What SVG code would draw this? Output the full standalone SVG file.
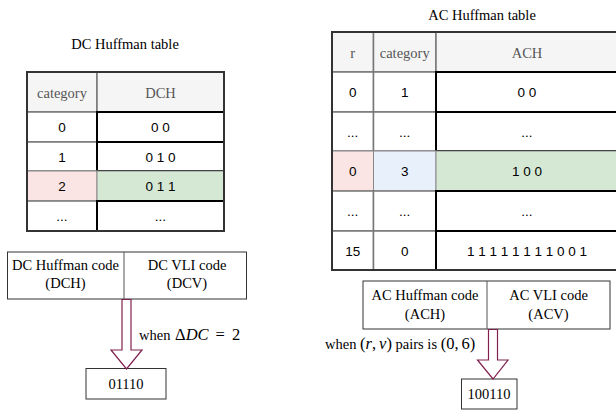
<svg xmlns="http://www.w3.org/2000/svg" width="616" height="412" viewBox="0 0 616 412">
<style>
.ser{font-family:"Liberation Serif","Times New Roman",serif;font-size:14.5px;fill:#000}
.hd{font-family:"Liberation Serif","Times New Roman",serif;font-size:14.5px;fill:#555;text-anchor:middle}
.dt{font-family:"Liberation Sans",Arial,sans-serif;font-size:13.5px;fill:#000;text-anchor:middle}
.mid{text-anchor:middle}
.m{font-size:16.5px}
.i{font-style:italic}
.hc{fill:#f5f5f5;stroke:#777;stroke-width:1.5}
.gc{fill:#fff;stroke:#777;stroke-width:1.5}
.bc{fill:#fff;stroke:#000;stroke-width:2}
.pk{fill:#fae4e4;stroke:#888;stroke-width:1}
.gr{fill:#d5e8d4;stroke:#888;stroke-width:1}
.bl{fill:#e8f0fc;stroke:#888;stroke-width:1}
.frame{fill:none;stroke:#333;stroke-width:2}
.box{fill:#fff;stroke:#333;stroke-width:1}
.arr{fill:#fff;stroke:#80204f;stroke-width:1.2}
</style>

<g id="dc-title"><text class="ser mid" x="125" y="49">DC Huffman table</text></g>

<g id="dc-table">
  <rect class="hc" x="27" y="72" width="70" height="40"/>
  <rect class="hc" x="97" y="72" width="127" height="40"/>
  <rect class="gc" x="27" y="112" width="70" height="30"/>
  <rect class="bc" x="97" y="112" width="127" height="30"/>
  <rect class="gc" x="27" y="142" width="70" height="29"/>
  <rect class="bc" x="97" y="142" width="127" height="29"/>
  <rect class="pk" x="27" y="171" width="70" height="30"/>
  <rect class="gr" x="97" y="171" width="127" height="30"/>
  <rect class="gc" x="27" y="201" width="70" height="30"/>
  <rect class="bc" x="97" y="201" width="127" height="30"/>
  <rect class="frame" x="27" y="72" width="197" height="159"/>
  <text class="hd" x="62" y="97.5">category</text>
  <text class="hd" x="160.5" y="97.5">DCH</text>
  <text class="dt" x="62" y="132">0</text><text class="dt" x="160.5" y="132">0 0</text>
  <text class="dt" x="62" y="161.5">1</text><text class="dt" x="160.5" y="161.5">0 1 0</text>
  <text class="dt" x="62" y="191">2</text><text class="dt" x="160.5" y="191">0 1 1</text>
  <text class="dt" x="62" y="221">...</text><text class="dt" x="160.5" y="221">...</text>
</g>

<g id="dc-code">
  <rect class="box" x="7.5" y="252" width="239" height="47"/>
  <line x1="124" y1="252" x2="124" y2="299" stroke="#555" stroke-width="1"/>
  <text class="ser mid" x="65.5" y="269.5">DC Huffman code</text>
  <text class="ser mid" x="65.5" y="288">(DCH)</text>
  <text class="ser mid" x="187" y="269.5">DC VLI code</text>
  <text class="ser mid" x="187" y="288">(DCV)</text>
</g>

<g id="dc-result">
  <rect class="box" x="86" y="368.5" width="80" height="30.5"/>
  <text class="ser mid" x="126" y="389">01110</text>
</g>

<g id="ac-title"><text class="ser mid" x="482" y="20">AC Huffman table</text></g>

<g id="ac-table">
  <rect class="hc" x="332" y="32" width="41.5" height="40"/>
  <rect class="hc" x="373.5" y="32" width="62.5" height="40"/>
  <rect class="hc" x="436" y="32" width="182" height="40"/>
  <rect class="gc" x="332" y="72" width="41.5" height="40"/>
  <rect class="gc" x="373.5" y="72" width="62.5" height="40"/>
  <rect class="bc" x="436" y="72" width="182" height="40"/>
  <rect class="gc" x="332" y="112" width="41.5" height="39"/>
  <rect class="gc" x="373.5" y="112" width="62.5" height="39"/>
  <rect class="bc" x="436" y="112" width="182" height="39"/>
  <rect class="pk" x="332" y="151" width="41.5" height="40"/>
  <rect class="bl" x="373.5" y="151" width="62.5" height="40"/>
  <rect class="gr" x="436" y="151" width="182" height="40"/>
  <rect class="gc" x="332" y="191" width="41.5" height="40"/>
  <rect class="gc" x="373.5" y="191" width="62.5" height="40"/>
  <rect class="bc" x="436" y="191" width="182" height="40"/>
  <rect class="gc" x="332" y="231" width="41.5" height="39"/>
  <rect class="gc" x="373.5" y="231" width="62.5" height="39"/>
  <rect class="bc" x="436" y="231" width="182" height="39"/>
  <rect class="frame" x="332" y="32" width="286" height="238"/>
  <text class="hd" x="352.7" y="57.5">r</text>
  <text class="hd" x="404.7" y="57.5">category</text>
  <text class="hd" x="527" y="57.5">ACH</text>
  <text class="dt" x="352.7" y="97">0</text><text class="dt" x="404.7" y="97">1</text><text class="dt" x="527" y="97">0 0</text>
  <text class="dt" x="352.7" y="136.5">...</text><text class="dt" x="404.7" y="136.5">...</text><text class="dt" x="527" y="136.5">...</text>
  <text class="dt" x="352.7" y="176">0</text><text class="dt" x="404.7" y="176">3</text><text class="dt" x="527" y="176">1 0 0</text>
  <text class="dt" x="352.7" y="216">...</text><text class="dt" x="404.7" y="216">...</text><text class="dt" x="527" y="216">...</text>
  <text class="dt" x="352.7" y="255.5">15</text><text class="dt" x="404.7" y="255.5">0</text><text class="dt" x="527" y="255.5">1 1 1 1 1 1 1 1 0 0 1</text>
</g>

<g id="ac-code">
  <rect class="box" x="363" y="281" width="247" height="48"/>
  <line x1="487" y1="281" x2="487" y2="329" stroke="#555" stroke-width="1"/>
  <text class="ser mid" x="425" y="300">AC Huffman code</text>
  <text class="ser mid" x="425" y="318.5">(ACH)</text>
  <text class="ser mid" x="548.5" y="300">AC VLI code</text>
  <text class="ser mid" x="548.5" y="318.5">(ACV)</text>
</g>

<g id="ac-result">
  <rect class="box" x="461.5" y="379" width="55.5" height="30"/>
  <text class="ser mid" x="489" y="399">100110</text>
</g>

<g id="connectors">
  <polygon class="arr" points="122,299.5 131,299.5 131,350 142,350 126.5,369 111,350 122,350"/>
  <polygon class="arr" points="488.5,329.5 497.5,329.5 497.5,360 508,360 493,379 477.5,360 488.5,360"/>
  <text class="ser" x="139" y="340">when <tspan class="m" dx="1">Δ</tspan><tspan class="m i">DC</tspan><tspan class="m" dx="7">=</tspan><tspan class="m" dx="7">2</tspan></text>
  <text class="ser" x="325" y="349">when <tspan class="m">(</tspan><tspan class="m i">r</tspan><tspan class="m">,</tspan><tspan class="m i" dx="3">v</tspan><tspan class="m">)</tspan> pairs is <tspan class="m">(0,</tspan><tspan class="m" dx="3">6)</tspan></text>
</g>
</svg>
